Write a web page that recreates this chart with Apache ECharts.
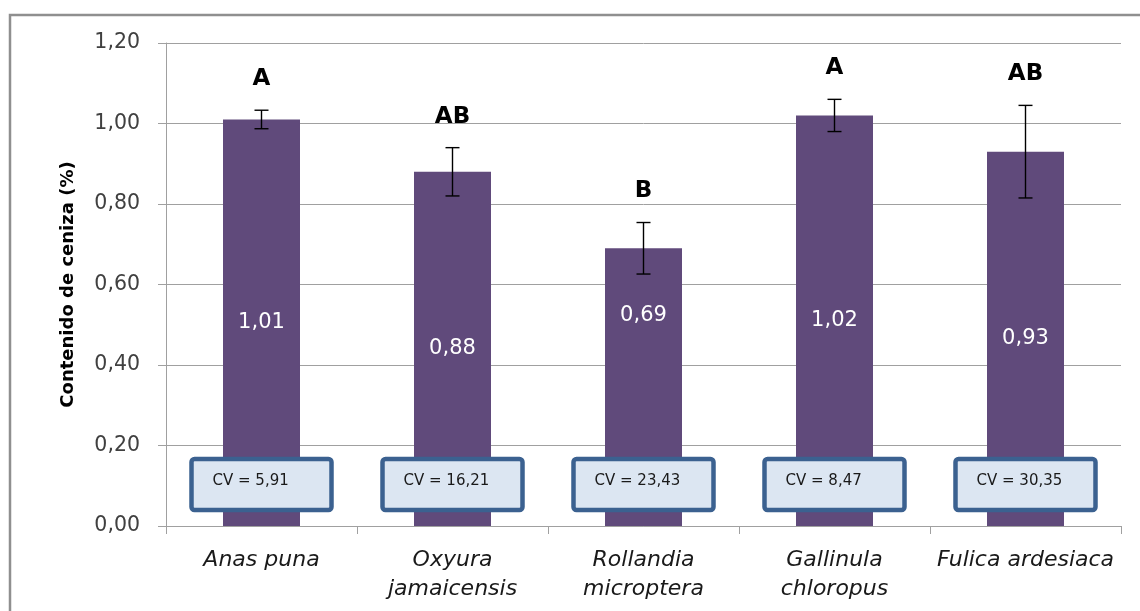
<!DOCTYPE html>
<html>
<head>
<meta charset="utf-8">
<script src="https://cdn.jsdelivr.net/npm/echarts@6/dist/echarts.min.js"></script>
<style>
  html, body { margin: 0; padding: 0; background: #ffffff; }
  #chart { width: 1140px; height: 611px; }
</style>
</head>
<body>
<div id="chart"></div>
<script>
// Ash content by species
const categories = ['Anas puna', 'Oxyura\njamaicensis', 'Rollandia\nmicroptera', 'Gallinula\nchloropus', 'Fulica ardesiaca'];
const means = [1.01, 0.88, 0.69, 1.02, 0.93];
const errors = [0.023, 0.06, 0.064, 0.04, 0.115];
const letters = ['A', 'AB', 'B', 'A', 'AB'];
const cvValues = ['5,91', '16,21', '23,43', '8,47', '30,35'];
const yTicks = { min: 0, max: 1.2, interval: 0.2 };

const FONT = '"DejaVu Sans", Verdana, sans-serif';
const fmt = v => v.toFixed(2).replace('.', ',');

const chart = echarts.init(document.getElementById('chart'), null, { renderer: 'canvas' });

const barData = means.map((v, i) => {
  const item = { value: v };
  if (i === 2) item.label = { offset: [0, -72] };
  return item;
});

chart.setOption({
  animation: false,
  backgroundColor: '#ffffff',
  grid: { left: 166, right: 19, top: 43, bottom: 85 },
  graphic: [{
    type: 'rect',
    shape: { x: 10, y: 15, width: 1200, height: 700 },
    style: { fill: 'none', stroke: '#8f8f8f', lineWidth: 2.5 },
    silent: true, z: 0
  }],
  xAxis: {
    type: 'category',
    data: categories,
    axisLine: { lineStyle: { color: '#a0a0a0', width: 1 } },
    axisTick: { show: true, length: 8, lineStyle: { color: '#a0a0a0' } },
    axisLabel: {
      fontFamily: FONT, fontStyle: 'italic', fontSize: 22, color: '#1a1a1a',
      lineHeight: 29, margin: 20, interval: 0
    }
  },
  yAxis: {
    type: 'value',
    min: yTicks.min, max: yTicks.max, interval: yTicks.interval,
    name: 'Contenido de ceniza (%)',
    nameLocation: 'middle',
    nameGap: 89,
    nameTextStyle: { fontFamily: FONT, fontWeight: 'bold', fontSize: 18, color: '#000000' },
    axisLine: { show: true, lineStyle: { color: '#a0a0a0', width: 1 } },
    axisTick: { show: true, length: 8, lineStyle: { color: '#a0a0a0' } },
    axisLabel: { fontFamily: FONT, fontSize: 20.5, color: '#404040', margin: 26, formatter: v => fmt(v) },
    splitLine: { lineStyle: { color: '#a0a0a0', width: 1 } }
  },
  series: [
    {
      type: 'bar',
      data: barData,
      barWidth: 77,
      itemStyle: { color: '#604a7b' },
      label: {
        show: true, position: 'inside',
        fontFamily: FONT, fontSize: 21, color: '#ffffff',
        formatter: p => fmt(p.value)
      },
      z: 2
    },
    {
      // error bars with caps
      type: 'custom',
      data: means.map((m, i) => [i, m, errors[i]]),
      renderItem: (params, api) => {
        const x = api.value(0), m = api.value(1), e = api.value(2);
        const top = api.coord([x, m + e]);
        const bot = api.coord([x, m - e]);
        const cap = 7;
        const st = { stroke: '#000000', lineWidth: 1.4 };
        return {
          type: 'group',
          children: [
            { type: 'line', shape: { x1: top[0], y1: top[1], x2: bot[0], y2: bot[1] }, style: st },
            { type: 'line', shape: { x1: top[0] - cap, y1: top[1], x2: top[0] + cap, y2: top[1] }, style: st },
            { type: 'line', shape: { x1: bot[0] - cap, y1: bot[1], x2: bot[0] + cap, y2: bot[1] }, style: st }
          ]
        };
      },
      z: 3
    },
    {
      // significance letters above the error bars
      type: 'custom',
      data: means.map((m, i) => [i, m + errors[i], letters[i]]),
      renderItem: (params, api) => {
        const p = api.coord([api.value(0), api.value(1)]);
        return {
          type: 'text',
          style: {
            x: p[0], y: p[1] - 31, text: letters[params.dataIndex],
            fontFamily: FONT, fontWeight: 'bold', fontSize: 23, fill: '#000000',
            align: 'center', verticalAlign: 'middle'
          }
        };
      },
      z: 4
    },
    {
      // CV boxes near the base of each bar
      type: 'custom',
      data: cvValues.map((c, i) => [i, 0]),
      renderItem: (params, api) => {
        const p = api.coord([api.value(0), 0]);
        const w = 140, h = 51;
        const x0 = p[0] - w / 2, y0 = p[1] - 67;
        return {
          type: 'group',
          children: [
            {
              type: 'rect',
              shape: { x: x0, y: y0, width: w, height: h, r: 3 },
              style: { fill: '#dce6f2', stroke: '#3b6190', lineWidth: 4.5 }
            },
            {
              type: 'text',
              style: {
                x: x0 + 21, y: y0 + 22, text: 'CV = ' + cvValues[params.dataIndex],
                fontFamily: FONT, fontSize: 15, fill: '#1a1a1a',
                align: 'left', verticalAlign: 'middle'
              }
            }
          ]
        };
      },
      z: 5
    }
  ]
});
</script>
</body>
</html>
